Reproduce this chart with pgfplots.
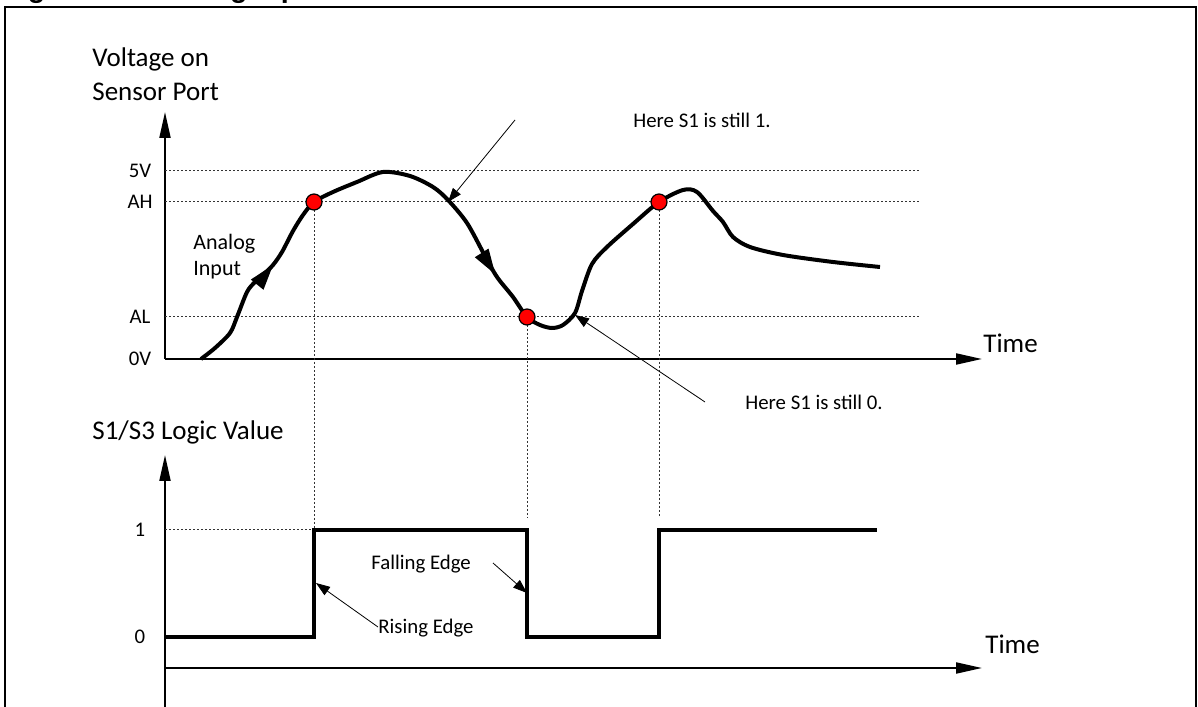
\documentclass[border=0pt]{standalone}
\usepackage{fontspec}
\setmainfont{Carlito}
\newfontfamily\titlefont{Liberation Sans}
\usepackage{pgfplots}
\pgfplotsset{compat=1.18}
\usetikzlibrary{arrows.meta,decorations.markings}

\newcommand\bigtxt{\fontsize{13.5}{16.2}\selectfont}
\newcommand\smalltxt{\fontsize{10.4}{12.5}\selectfont}

\tikzset{
  gridline/.style={line width=0.5pt, black!80, dash pattern=on 1pt off 1pt},
  pointer/.style={line width=0.4pt, -{Triangle[length=7pt,width=5pt]}},
  txt/.style={anchor=base west, inner sep=0pt},
  axisarrow/.style={line width=1pt, -{Triangle[length=13pt,width=5.5pt]}},
}
\pgfplotsset{
  sketch/.style={
    x=0.5pt, y=0.5pt, clip=false,
    every non boxed x axis/.append style={x axis line style={axisarrow}},
    every non boxed y axis/.append style={y axis line style={axisarrow}},
    xtick=\empty, major tick length=0pt,
    yticklabel style={anchor=center, xshift=-12.5pt, font=\smalltxt},
  },
}

\begin{document}
\begin{tikzpicture}[x=0.5pt,y=0.5pt]
\useasboundingbox (0,0) rectangle (1198,706);
% frame and the cut-off caption above it
\draw[line width=1.25pt] (5,-10) -- (5,699) -- (1196,699) -- (1196,-10);
\begin{scope}
  \clip (0,0) rectangle (1198,706);
  \node[txt, font=\titlefont\bfseries\fontsize{14.3}{17}\selectfont] at (2,708)
    {Figure 3.\hspace{14.5pt}Analog input and thresholds};
\end{scope}

% voltage on the sensor port
\begin{axis}[sketch, at={(82.5pt,173.5pt)}, anchor=south west,
  axis lines=left, xmin=0, xmax=817, ymin=0, ymax=247,
  ytick={0,42,157,188}, yticklabels={0V,AL,AH,5V}]
  \addplot[gridline] coordinates {(0,188) (755,188)};
  \addplot[gridline] coordinates {(0,157) (755,157)};
  \addplot[gridline] coordinates {(0,42) (755,42)};
  \addplot[gridline] coordinates {(149,157) (149,-171)};
  \addplot[gridline] coordinates {(362,42) (362,-159)};
  \addplot[gridline] coordinates {(494,157) (494,-157)};
  \addplot[line width=2pt, smooth, postaction={decorate},
    decoration={markings,
      mark=at position 0.13 with {\arrow{Triangle[length=13pt,width=7.5pt]}},
      mark=at position 0.463 with {\arrow{Triangle[length=13pt,width=7.5pt]}}}]
  coordinates {
    (36,0) (50,11) (65,26) (72,42) (82,67) (90,77) (98,84) (108,94)
    (117,107) (128,128) (138,144) (149,157) (168,167) (192,177) (218,187)
    (245,183) (268,172) (283,159) (302,136) (320,103) (332,82) (348,62)
    (362,42) (375,34) (387,31) (398,34) (410,46) (417,68) (427,95)
    (442,112) (468,135) (494,157) (518,169) (532,167) (548,148) (558,137)
    (568,122) (585,112) (618,104) (668,97) (715,92)
  };
  \addplot[only marks, mark=*, mark size=4pt,
    mark options={fill=red, draw=black, line width=0.6pt}]
    coordinates {(149,157) (362,42) (494,157)};
  \addplot[pointer] coordinates {(350,239) (283,157)};
  \addplot[pointer] coordinates {(540,-43) (410,44)};
  \node[txt, font=\smalltxt] at (axis cs:468,231) {Here S1 is still 1.};
  \node[txt, font=\smalltxt] at (axis cs:580,-51) {Here S1 is still 0.};
  \node[txt, font=\fontsize{11}{13}\selectfont] at (axis cs:28,109) {Analog};
  \node[txt, font=\fontsize{11}{13}\selectfont] at (axis cs:28,83) {Input};
  \node[txt, font=\bigtxt] at (axis cs:-73,292) {Voltage on};
  \node[txt, font=\bigtxt] at (axis cs:-73,258) {Sensor Port};
  \node[txt, font=\bigtxt] at (axis cs:818,6) {Time};
\end{axis}

% S1/S3 logic value
\begin{axis}[sketch, at={(82.5pt,-2pt)}, anchor=south west,
  axis y line=left, axis x line=middle,
  xmin=0, xmax=817, ymin=-42, ymax=213,
  ytick={31,138}, yticklabels={0,1}]
  \addplot[gridline] coordinates {(0,138) (149,138)};
  \addplot[line width=2pt, line join=miter] coordinates {
    (0,31) (149,31) (149,138) (362,138) (362,31) (494,31) (494,138) (712,138)
  };
  \addplot[pointer] coordinates {(328,105) (362,75)};
  \addplot[pointer] coordinates {(213,41) (151,85)};
  \node[txt, font=\smalltxt] at (axis cs:206,98) {Falling Edge};
  \node[txt, font=\smalltxt] at (axis cs:213,34) {Rising Edge};
  \node[txt, font=\bigtxt] at (axis cs:-73,228) {S1/S3 Logic Value};
  \node[txt, font=\bigtxt] at (axis cs:820,14) {Time};
\end{axis}
\end{tikzpicture}
\end{document}
